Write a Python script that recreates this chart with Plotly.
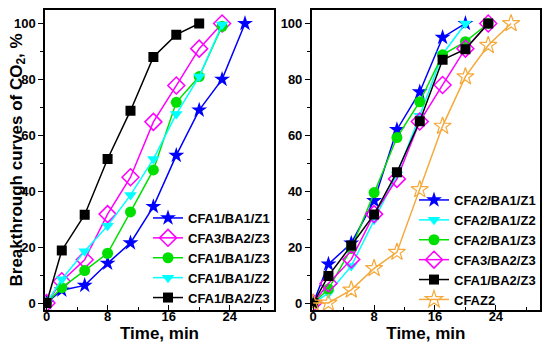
import plotly.graph_objects as go

# ---------------- data ----------------
time_all = [0, 2, 5, 8, 11, 14, 17, 20, 23, 26]

# left panel
left_names = ["CFA1/BA1/Z1", "CFA3/BA2/Z3", "CFA1/BA1/Z3", "CFA1/BA1/Z2", "CFA1/BA2/Z3"]
left_cfa1_ba1_z1 = [0, 4.6, 6.3, 14.2, 21.5, 34.5, 52.8, 69, 80, 100]
left_cfa3_ba2_z3 = [0, 7.8, 15.5, 31.8, 45, 64.8, 77.8, 91, 100]
left_cfa1_ba1_z3 = [0, 5.5, 11.6, 17.8, 32.6, 47.6, 71.8, 81, 99]
left_cfa1_ba1_z2 = [0, 8.5, 18.5, 27.6, 38.6, 51.5, 67.6, 81, 99.6]
left_cfa1_ba2_z3 = [0, 18.8, 31.6, 51.5, 68.8, 88, 96, 100]

# right panel
right_names = ["CFA2/BA1/Z1", "CFA2/BA1/Z2", "CFA2/BA1/Z3", "CFA3/BA2/Z3", "CFA1/BA2/Z3", "CFAZ2"]
right_cfa2_ba1_z1 = [0, 13.9, 21.4, 36.6, 62, 75.5, 95, 100]
right_cfa2_ba1_z2 = [0, 3.5, 13.2, 29.8, 46, 67, 89, 100]
right_cfa2_ba1_z3 = [0, 5, 19.5, 39.5, 59.2, 72, 88.8, 93.5, 100]
right_cfa3_ba2_z3 = [0, 7, 15.6, 31.8, 44.4, 64.9, 78, 91, 100]
right_cfa1_ba2_z3 = [0, 9.7, 20.6, 31.7, 46.8, 65, 87, 90.8, 100]
right_cfaz2 = [0, 0, 4.7, 12.4, 18.2, 40.6, 63.3, 81, 92.2, 100]

x_ticks = [0, 8, 16, 24]
y_ticks = [0, 20, 40, 60, 80, 100]
y_title = "Breakthrough curves of CO<sub>2</sub>, %"
x_title = "Time, min"

# ---------------- styles ----------------
FONT = "Arial, Liberation Sans, sans-serif"
BLUE = "#0000ff"
MAGENTA = "#ff00ff"
GREEN = "#00e000"
CYAN = "#00ffff"
BLACK = "#000000"
ORANGE = "#f5a93a"

styles = {
    "star": dict(symbol="star", size=12, color=BLUE, line=dict(width=0)),
    "diamond": dict(symbol="diamond-open", size=13, color=MAGENTA, line=dict(width=1.5, color=MAGENTA)),
    "circle": dict(symbol="circle", size=11, color=GREEN, line=dict(width=0)),
    "tri": dict(symbol="triangle-down", size=11, color=CYAN, line=dict(width=0)),
    "square": dict(symbol="square", size=10, color=BLACK, line=dict(width=0)),
    "ostar": dict(symbol="star-open", size=13, color=ORANGE, line=dict(width=1.2, color=ORANGE)),
}

fig = go.Figure()


def add(xs, ys, name, color, mk, xa, ya, legend):
    fig.add_trace(go.Scatter(
        x=xs[:len(ys)], y=ys, name=name, mode="lines+markers",
        line=dict(color=color, width=1.5), marker=styles[mk],
        xaxis=xa, yaxis=ya, legend=legend,
    ))


add(time_all, left_cfa1_ba1_z1, left_names[0], BLUE, "star", "x", "y", "legend")
add(time_all, left_cfa3_ba2_z3, left_names[1], MAGENTA, "diamond", "x", "y", "legend")
add(time_all, left_cfa1_ba1_z3, left_names[2], GREEN, "circle", "x", "y", "legend")
add(time_all, left_cfa1_ba1_z2, left_names[3], CYAN, "tri", "x", "y", "legend")
add(time_all, left_cfa1_ba2_z3, left_names[4], BLACK, "square", "x", "y", "legend")

add(time_all, right_cfa2_ba1_z1, right_names[0], BLUE, "star", "x2", "y2", "legend2")
add(time_all, right_cfa2_ba1_z2, right_names[1], CYAN, "tri", "x2", "y2", "legend2")
add(time_all, right_cfa2_ba1_z3, right_names[2], GREEN, "circle", "x2", "y2", "legend2")
add(time_all, right_cfa3_ba2_z3, right_names[3], MAGENTA, "diamond", "x2", "y2", "legend2")
add(time_all, right_cfa1_ba2_z3, right_names[4], BLACK, "square", "x2", "y2", "legend2")
add(time_all, right_cfaz2, right_names[5], ORANGE, "ostar", "x2", "y2", "legend2")

tickfont = dict(family=FONT, size=13, color="black", weight="bold")
titlefont = dict(family=FONT, size=17, color="black", weight="bold")

common_x = dict(
    range=[-0.2, 29.8], tickvals=x_ticks, ticktext=[str(v) for v in x_ticks],
    ticks="inside", ticklen=5, tickwidth=1.2, tickcolor="black",
    minor=dict(dtick=4, tick0=0, ticks="inside", ticklen=3, tickwidth=1.2, tickcolor="black"),
    showline=True, linecolor="black", linewidth=1.5, mirror=True,
    showgrid=False, zeroline=False, tickfont=tickfont, automargin=False,
    ticklabelstandoff=-6,
    title=dict(text=x_title, font=titlefont, standoff=0),
)
common_y = dict(
    range=[-2.5, 105], tickvals=y_ticks, ticktext=[str(v) for v in y_ticks],
    ticks="outside", ticklen=5, tickwidth=1.2, tickcolor="black",
    minor=dict(dtick=10, tick0=0, ticks="outside", ticklen=3, tickwidth=1.2, tickcolor="black"),
    showline=True, linecolor="black", linewidth=1.5, mirror=True,
    showgrid=False, zeroline=False, tickfont=tickfont, automargin=False,
)

legend_common = dict(
    font=dict(family=FONT, size=13, color="black", weight="bold"),
    bgcolor="rgba(0,0,0,0)", borderwidth=0, tracegroupgap=0,
    xanchor="left", yanchor="top", itemsizing="trace",
)

fig.update_layout(
    width=550, height=351,
    margin=dict(l=0, r=0, t=0, b=0),
    paper_bgcolor="white", plot_bgcolor="white",
    showlegend=True,
    xaxis=dict(domain=[45 / 550, 274 / 550], anchor="y", **common_x),
    yaxis=dict(domain=[1 - 310 / 351, 1 - 9.5 / 351], anchor="x", **common_y),
    xaxis2=dict(domain=[311.7 / 550, 540 / 550], anchor="y2", **common_x),
    yaxis2=dict(domain=[1 - 310 / 351, 1 - 9.5 / 351], anchor="x2", **common_y),
    legend=dict(x=148 / 550, y=1 - 203 / 351, **legend_common),
    legend2=dict(x=414 / 550, y=1 - 185 / 351, **legend_common),
    annotations=[dict(
        text=y_title, textangle=-90, font=titlefont, showarrow=False,
        xref="paper", yref="paper", x=17.5 / 550, y=1 - 160 / 351,
        xanchor="center", yanchor="middle",
    )],
)

fig.write_html("out.html", post_script="document.body.style.margin='0px';",
               config={"displayModeBar": False})
